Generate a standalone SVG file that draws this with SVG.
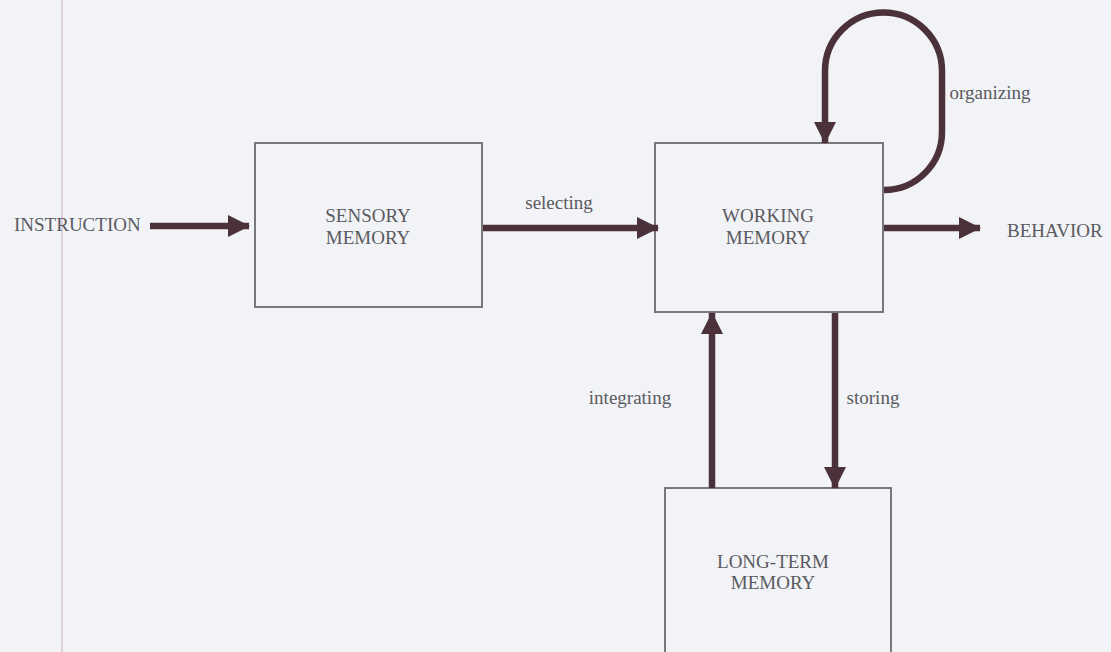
<svg xmlns="http://www.w3.org/2000/svg" width="1111" height="652" viewBox="0 0 1111 652">
<defs>
<style>
.box{fill:#f2f3f7;stroke:#77777c;stroke-width:2}
.lbl{font-family:"Liberation Serif",serif;font-size:19px;fill:#5a5a5f;text-anchor:middle}
.edge{fill:none;stroke:#4b3139;stroke-width:6.5}
</style>
<marker id="ah" markerUnits="userSpaceOnUse" markerWidth="22" markerHeight="24" viewBox="0 0 22 24" refX="21" refY="12" orient="auto">
<path d="M0,1 L22,12 L0,23 Z" fill="#4b3139"/>
</marker>
</defs>
<rect width="1111" height="652" fill="#f2f3f7"/>
<line x1="62" y1="0" x2="62" y2="652" stroke="#d9c6cc" stroke-width="1.5"/>
<g id="sensory">
<rect class="box" x="255" y="143" width="227" height="164"/>
<text class="lbl" x="368" y="222">SENSORY</text>
<text class="lbl" x="368" y="244">MEMORY</text>
</g>
<g id="working">
<rect class="box" x="655" y="143" width="228" height="169"/>
<text class="lbl" x="768" y="222">WORKING</text>
<text class="lbl" x="768" y="244">MEMORY</text>
</g>
<g id="longterm">
<rect class="box" x="665" y="488" width="226" height="175"/>
<text class="lbl" x="773" y="568">LONG-TERM</text>
<text class="lbl" x="773" y="589">MEMORY</text>
</g>
<g id="instruction"><text class="lbl" x="14" y="231" style="text-anchor:start">INSTRUCTION</text></g>
<g id="behavior"><text class="lbl" x="1007" y="237" style="text-anchor:start">BEHAVIOR</text></g>
<g id="connectors">
<path class="edge" d="M150,226 L249,226" marker-end="url(#ah)"/>
<path class="edge" d="M483,228 L658,228" marker-end="url(#ah)"/>
<path class="edge" d="M884,228 L980,228" marker-end="url(#ah)"/>
<path class="edge" d="M884,190 A58,58 0 0 0 942,132 L942,71 A58.5,58.5 0 0 0 825,71 L825,143" marker-end="url(#ah)"/>
<path class="edge" d="M712,488 L712,313" marker-end="url(#ah)"/>
<path class="edge" d="M835,313 L835,488" marker-end="url(#ah)"/>
<text class="lbl" x="559" y="209">selecting</text>
<text class="lbl" x="990" y="99">organizing</text>
<text class="lbl" x="630" y="404">integrating</text>
<text class="lbl" x="873" y="404">storing</text>
</g>
</svg>
